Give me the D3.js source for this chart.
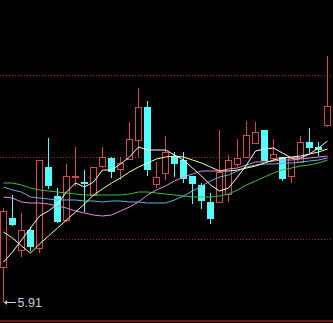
<!DOCTYPE html>
<html>
<head>
<meta charset="utf-8">
<script src="https://cdn.jsdelivr.net/npm/d3@7"></script>
<style>
  html, body { margin: 0; padding: 0; background: #000; }
  svg { display: block; }
</style>
</head>
<body>
<div id="chart"></div>
<script>
// daily bars, oldest first
const opens  = [6.25, 6.74, 6.42, 6.62, 6.44, 7.25, 6.96, 6.72, 7.15, 7.10, 6.97, 7.26, 7.34, 7.23, 7.33, 7.52, 7.85, 7.08, 7.19,
                7.36, 7.32, 7.16, 7.07, 6.90, 6.90, 6.98, 7.28, 7.35, 7.49, 7.62, 7.34, 7.35, 7.16, 7.30, 7.50, 7.45, 7.67];
const highs  = [6.84, 6.97, 6.79, 6.65, 7.32, 7.54, 7.04, 7.28, 7.45, 7.22, 7.25, 7.45, 7.35, 7.35, 7.70, 8.04, 7.91, 7.30, 7.56,
                7.40, 7.40, 7.16, 7.09, 6.99, 7.62, 7.37, 7.53, 7.71, 7.70, 7.62, 7.53, 7.35, 7.34, 7.56, 7.64, 7.50, 8.36];
const lows   = [5.91, 6.67, 6.36, 6.42, 6.40, 7.04, 6.70, 6.71, 7.07, 6.81, 6.97, 7.25, 7.15, 7.13, 7.33, 7.35, 7.17, 7.05, 7.13,
                7.16, 7.10, 6.89, 6.84, 6.69, 6.90, 6.91, 7.26, 7.35, 7.49, 7.32, 7.32, 7.12, 7.10, 7.30, 7.40, 7.37, 7.66];
const closes = [6.81, 6.68, 6.62, 6.46, 7.32, 7.07, 6.71, 7.16, 7.16, 7.09, 7.25, 7.35, 7.21, 7.29, 7.53, 7.85, 7.23, 7.15, 7.40,
                7.29, 7.14, 7.09, 6.92, 6.74, 7.20, 7.32, 7.34, 7.57, 7.60, 7.32, 7.38, 7.14, 7.34, 7.50, 7.45, 7.43, 7.86];

// moving averages
const ma5  = [6.30, 6.40, 6.52, 6.64, 6.76, 6.81, 6.88, 7.00, 7.09, 7.05, 7.10, 7.22, 7.22, 7.28, 7.35, 7.45, 7.42, 7.42, 7.42,
              7.37, 7.32, 7.24, 7.16, 7.07, 7.01, 7.04, 7.15, 7.27, 7.41, 7.43, 7.44, 7.39, 7.34, 7.34, 7.38, 7.44, 7.51];
const ma10 = [6.60, 6.54, 6.46, 6.39, 6.48, 6.56, 6.64, 6.72, 6.80, 6.88, 6.97, 7.03, 7.09, 7.14, 7.20, 7.25, 7.29, 7.33, 7.35,
              7.36, 7.35, 7.32, 7.29, 7.25, 7.21, 7.21, 7.22, 7.24, 7.26, 7.29, 7.32, 7.34, 7.35, 7.36, 7.38, 7.40, 7.43];
const ma20 = [6.95, 6.94, 6.90, 6.89, 6.89, 6.88, 6.86, 6.84, 6.81, 6.79, 6.77, 6.76, 6.77, 6.81, 6.85, 6.90, 6.97, 7.02, 7.06,
              7.11, 7.15, 7.18, 7.21, 7.21, 7.21, 7.23, 7.24, 7.27, 7.30, 7.30, 7.31, 7.32, 7.32, 7.33, 7.34, 7.35, 7.36];
const ma30 = [7.05, 7.02, 7.00, 6.95, 6.94, 6.93, 6.92, 6.92, 6.92, 6.91, 6.91, 6.90, 6.91, 6.91, 6.90, 6.90, 6.89, 6.89, 6.89,
              6.92, 6.96, 7.01, 7.06, 7.11, 7.15, 7.17, 7.21, 7.25, 7.27, 7.28, 7.28, 7.29, 7.29, 7.30, 7.31, 7.32, 7.34];
const ma60 = [7.09, 7.09, 7.07, 7.04, 7.02, 7.01, 7.00, 6.99, 6.98, 6.97, 6.97, 6.97, 6.97, 6.97, 6.98, 7.00, 7.00, 6.99, 6.98,
              6.97, 6.96, 6.95, 6.95, 6.95, 6.96, 6.98, 7.02, 7.07, 7.11, 7.15, 7.19, 7.22, 7.24, 7.26, 7.27, 7.29, 7.32];

const gridLevels = [6.53, 7.35, 8.17];
const baseLevel = 5.71;

const width = 333, height = 323;
const upColor = "#d44a4a", downColor = "#55fcfc";

const x = d3.scaleLinear().domain([0, opens.length - 1]).range([3.5, 327.5]);
const y = d3.scaleLinear().domain([5.71, 8.92]).range([321, 0]);
const py = v => Math.round(y(v));

const svg = d3.select("#chart").append("svg")
    .attr("width", width)
    .attr("height", height)
    .style("background", "#000");

// dotted price levels
svg.selectAll("line.grid")
    .data(gridLevels)
    .enter().append("line")
    .attr("class", "grid")
    .attr("x1", 0).attr("x2", width)
    .attr("y1", d => py(d) + 0.5).attr("y2", d => py(d) + 0.5)
    .attr("stroke", "#8c2626")
    .attr("stroke-dasharray", "1,2")
    .attr("shape-rendering", "crispEdges");

// bottom frame line
svg.append("line")
    .attr("x1", 0).attr("x2", width)
    .attr("y1", py(baseLevel)).attr("y2", py(baseLevel))
    .attr("stroke", "#6a1616")
    .attr("stroke-width", 2)
    .attr("shape-rendering", "crispEdges");

const bars = d3.range(opens.length).map(i => ({
    i: i, o: opens[i], h: highs[i], l: lows[i], c: closes[i], up: closes[i] >= opens[i]
}));

const candle = svg.append("g").attr("shape-rendering", "crispEdges")
    .selectAll("g")
    .data(bars)
    .enter().append("g");

candle.append("line")
    .attr("x1", d => x(d.i)).attr("x2", d => x(d.i))
    .attr("y1", d => py(d.h)).attr("y2", d => py(d.l) + 1)
    .attr("stroke", d => d.up ? upColor : downColor);

candle.append("rect")
    .attr("x", d => d.up ? x(d.i) - 3 : x(d.i) - 3.5)
    .attr("width", d => d.up ? 6 : 7)
    .attr("y", d => d.up ? py(Math.max(d.o, d.c)) + 0.5 : py(Math.max(d.o, d.c)))
    .attr("height", d => {
        const hgt = py(Math.min(d.o, d.c)) - py(Math.max(d.o, d.c));
        return d.up ? Math.max(hgt, 0.01) : Math.max(hgt + 1, 1);
    })
    .attr("fill", d => d.up ? "#000" : downColor)
    .attr("stroke", d => d.up ? upColor : "none");

// moving average lines
const maLines = [
    { values: ma60, color: "#3fbf3f" },
    { values: ma30, color: "#62b4dc" },
    { values: ma20, color: "#e68ae6" },
    { values: ma10, color: "#ffff9e" },
    { values: ma5,  color: "#ffffff" }
];

const line = d3.line()
    .x((d, i) => x(i))
    .y(d => y(d));

svg.selectAll("path.ma")
    .data(maLines)
    .enter().append("path")
    .attr("class", "ma")
    .attr("d", d => line(d.values))
    .attr("fill", "none")
    .attr("stroke", d => d.color)
    .attr("stroke-width", 1);

// lowest low marker
const lowIdx = d3.minIndex(lows);
const lx = x(lowIdx) + 0.5, ly = py(lows[lowIdx]) + 1.5;
svg.append("line")
    .attr("x1", lx).attr("x2", lx + 12)
    .attr("y1", ly).attr("y2", ly)
    .attr("stroke", "#cfcfcf");
svg.append("path")
    .attr("d", `M${lx},${ly} l3,-2.5 l0,5 z`)
    .attr("fill", "#cfcfcf");
svg.append("text")
    .attr("x", lx + 13.5)
    .attr("y", ly + 4.5)
    .attr("font-family", "Liberation Sans, Arial, sans-serif")
    .attr("font-size", 12.5)
    .attr("fill", "#cfcfcf")
    .text(lows[lowIdx].toFixed(2));
</script>
</body>
</html>
